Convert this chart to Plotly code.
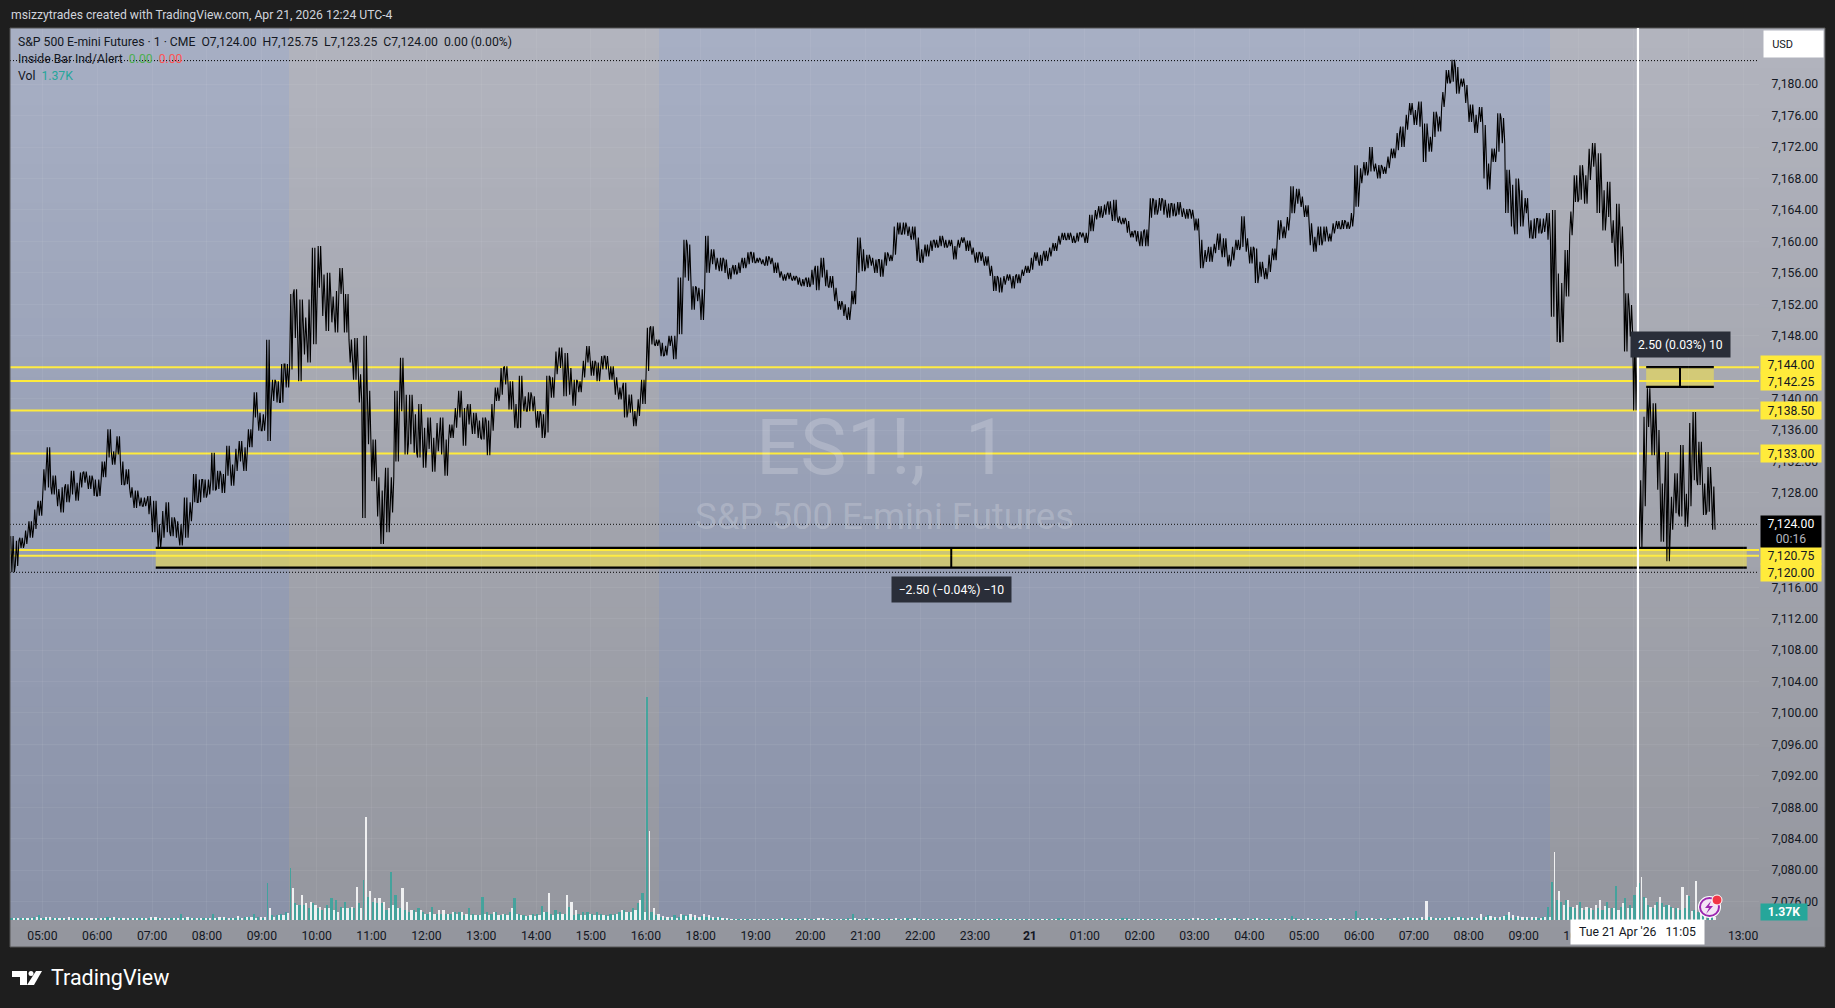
#!/usr/bin/env python3

import pandas as pd
import plotly.graph_objects as go

# 5 minute buckets: high and low of each bucket
price_hi = [
    7122.5,7121.9,7122.3,7123.2,7124.4,7125.9,7127,7131,7133.8,7130.2,
    7128.5,7128.7,7129.1,7130.8,7129.3,7130.6,7130.7,7130.2,7129.7,7129.7,
    7132,7136.1,7133.3,7135.2,7132,7131,7128.7,7128.3,7127.4,7127.4,
    7127.6,7127,7124,7125.7,7126.8,7124.9,7124.4,7124,7127.4,7126.8,
    7130.4,7129.7,7129.7,7129.7,7133.1,7130.8,7130.4,7134,7131.6,7133.6,
    7134.6,7133.8,7136.1,7140.8,7138.2,7138,7147.5,7142.4,7142.2,7144.4,
    7144.4,
    7153.3,7153.9,7152.6,7150.3,7152.6,7159.2,7159.4,7155.8,7156,7153,
    7153.7,7156.6,7153.3,7147.5,7147.7,7143.1,7148,7141,7134.8,7130,
    7128.3,7131.2,7130,7141,7145.2,7140.5,7140.5,7138,7139.3,7136.3,
    7137.6,7135,7136.9,7137.6,7134.8,7136.7,7138.8,7141,7138.8,7139.3,
    7138.2,7137.2,7137.6,7137.2,7139.3,7141.4,7143.9,7144.1,7142.2,7139.3,
    7142.9,7140.3,7140.8,7140.3,7138.4,7138,7142.9,7142.7,7146,7146.5,
    7145.8,7143.9,7142.4,7142.2,7144.8,7146.7,7144.8,7144.6,7145.4,7145.4,
    7144.1,7142.7,7141.4,7142,7140.5,7138.4,7139.9,7142.4,7149,7149.2,
    7147.5,7147.1,7146.7,7148,7148,7155.4,7160.2,7159.6,7154.3,7154.1,
    7153.9,7160.7,7159,7157.9,7157.9,7157.7,7156.6,7157,7157.3,7157.9,
    7158.6,7158.6,7157.9,7157.7,7158.1,7157.9,7157.3,7156.2,7155.8,7156,
    7155.6,7155.4,7155.2,7155.4,7156.4,7156.9,7157.9,7156.4,7155.6,7154.1,
    7152.4,7152,7151.6,7153.7,7160.5,7159,7158.3,7157.9,7157.7,7157.7,
    7158.6,7158.3,7161.9,7162.4,7162.4,7161.9,7161.9,7160.5,7159,7159.6,
    7160.1,7160.2,7160.7,7160.2,7160.2,7159.4,7160.2,7160.5,7160.1,7159.2,
    7158.6,7158.6,7158.1,7156.9,7155.6,7155.4,7155.6,7155.8,7155.6,7155.8,
    7156.4,7156.9,7157.9,7158.6,7158.3,7158.8,7159.2,7159.8,7160.7,7161.1,
    7161.1,7160.7,7161.1,7161.1,7161.1,7163.4,7164,7164.5,7164.7,7165.1,
    7165.3,7163.2,7163,7162.6,7161.3,7161.3,7161.3,7161.5,7165.5,7165.3,
    7165.5,7165.3,7164.8,7164.8,7165,
    7164.2,7164.1,7164,7162.9,7160.2,7158.9,7159.3,7159.7,7161,7160.4,
    7158.3,7159.3,7160.2,7163.2,7160.4,7159.3,7159.1,7157.4,7156.6,7158.3,
    7159.1,7162.7,7161.9,7163.1,7167,7166.7,7165.7,7164.6,7162.3,7160.6,
    7161.9,7161.9,7161,7162.3,7162.6,7162.7,7162.5,7163.6,7169.7,7169.3,
    7170.1,7172,7169.9,7169.7,7169.5,7170.8,7171.8,7173.8,7174.6,7176.1,
    7177.6,7176.7,7177.8,7175,7173.3,7176.5,7175.9,7179,7181.8,7183.1,
    7182.2,7180.7,7179.9,7177.4,7176.1,7177.1,7174.8,7169.9,7171.8,7176.3,
    7175.7,7169.1,7167.2,7168,7166.5,7165.5,7162.7,7162.9,7162.9,7162.9,
    7163.6,7164,7155.9,7154.7,7158.9,7163.8,7168.4,7169.7,7168.4,7171.8,
    7172.5,7171.2,7166.5,7167.6,7162.7,7164.8,7161.9,7153.4,7151.9,7148,
    7129.6,7137.7,7141.3,7139.4,7136,7129.2,7133.2,7127.5,7130.5,7134.1,
    7127.9,7136.9,7138.3,7134.5,7129.2,7131.3,7128.8,
]
price_lo = [
    7117.9,7118.7,7121,7121.5,7122.3,7123.4,7125.1,7128.3,7128.7,7127.8,
    7126.3,7125.5,7126.8,7127.8,7127,7128.7,7129.3,7128.5,7127.6,7127.6,
    7130,7132.5,7131.6,7132.9,7129,7129.1,7127.4,7126.1,7126.3,7126.3,
    7125.3,7123,7121,7122.3,7123,7122.5,7122.3,7121.3,7122.3,7124.4,
    7126.8,7126.8,7127.4,7127.8,7128.3,7128.5,7128,7130.2,7128.9,7130.8,
    7132,7130.8,7133.8,7137.6,7135.9,7135.9,7134.6,7139.7,7139.5,7139.5,
    7141.4,
    7143.7,7147.7,7142.2,7145.6,7144.6,7146.9,7154.1,7150.5,7148.6,7149.7,
    7148.4,7153.3,7148.4,7144.6,7142.4,7139.5,7124.8,7134.2,7129.5,7125,
    7121.5,7123,7125.5,7132,7138.4,7132.9,7134.2,7133.1,7132.5,7131.2,
    7133.6,7130.7,7133.3,7132.9,7130.2,7135,7136.3,7137.6,7134,7136.7,
    7135.5,7135,7134.8,7132.8,7135.9,7139.7,7140.5,7141.8,7138.6,7136.3,
    7136.3,7138.4,7138.4,7138.4,7136.3,7135,7135.7,7140.1,7143.1,7143.9,
    7140.3,7140.5,7139.1,7140.8,7142.7,7144.6,7142.9,7142.2,7143.7,7143.7,
    7142.4,7140.5,7139.9,7137.6,7138.2,7136.5,7137.8,7139.3,7143.5,7146.9,
    7146.7,7145.4,7145.5,7146.7,7145,7148.2,7155.4,7155,7151.3,7152.4,
    7150,7156,7157.1,7156.4,7156.2,7156,7155.2,7155.8,7156,7156.6,
    7157.1,7157.3,7157.3,7157.1,7156.9,7157.1,7156,7155.4,7155,7155.2,
    7155,7154.5,7154.3,7154.2,7154.5,7153.8,7155.4,7154.3,7154.1,7152.4,
    7151.3,7150.5,7150,7152,7156,7156.2,7156.6,7156.9,7156,7155.5,
    7156.9,7157.5,7158.3,7160.9,7160.9,7160.7,7160.2,7157.5,7157.3,7158.1,
    7158.8,7159.2,7159.4,7159.2,7159.4,7157.7,7159.2,7159.8,7158.8,7158.3,
    7157.3,7157.5,7156.9,7155.6,7153.7,7153.5,7154.5,7155,7154,7154.7,
    7155.6,7156,7156.4,7157.5,7156.9,7157.5,7158.1,7158.8,7159.6,7160.2,
    7160.2,7159.8,7160,7160.5,7159.8,7161.3,7162.8,7163,7163.4,7163.4,
    7162.6,7162.4,7162.2,7161.1,7160.5,7160,7159.4,7159.4,7163,7163.4,
    7163.9,7163.4,7163,7163.2,7163.4,
    7163.1,7162.9,7162.9,7161.4,7156.6,7157.4,7157.4,7158.5,7158.9,7158,
    7156.8,7157.6,7158.9,7159.3,7158.7,7157.2,7154.7,7155.5,7155.2,7156.1,
    7157.6,7160.2,7160.4,7161.4,7163.6,7164.8,7164.4,7163.1,7159.5,7158.7,
    7159.5,7160,7160,7161,7161.6,7161.6,7161.6,7161.9,7164.4,7167.4,
    7168.4,7168.9,7168.9,7168,7168.6,7169.3,7170.6,7171.6,7172,7174.2,
    7176.1,7174.8,7174.6,7170.1,7171.4,7173.3,7174,7177.1,7180.1,7180.3,
    7178.8,7179.7,7177.6,7175.2,7173.8,7175.2,7168,7166.6,7170.1,7171.4,
    7172.5,7163.6,7161.9,7160.9,7161.9,7163.6,7160.4,7160.4,7161,7161.2,
    7160.2,7150.4,7147.2,7147.2,7153,7160.8,7165,7165.3,7164.8,7167.8,
    7169.5,7163.6,7161.4,7163.1,7159.8,7156.8,7157.2,7146,7147.9,7138.5,
    7121,7126.3,7136.4,7132.8,7128.4,7121.8,7119.3,7123.3,7125.4,7125,
    7123.7,7126.3,7129.6,7129,7125.2,7125.6,7123.3,
]

# volume in thousands, teal and white bars of each bucket
vol_teal = [
    .3,.4,.3,.3,.4,.5,.9,.3,.3,.4,.3,.3,.2,.3,.3,.4,.3,.3,.2,.3,
    .4,.6,.3,.3,.3,.2,.3,.3,.3,.3,.3,.3,.3,.3,.2,.3,.3,1.0,.4,.3,
    .3,.3,.4,.4,1.0,.4,.3,.3,.4,.3,.4,.5,.5,1.0,.5,.4,6.3,.9,.8,1.1,1.4,
    8.9,2.9,2.6,2.6,2,2.9,2,1.7,2.6,3.7,3.4,2.3,3.1,2,2,2.9,6.9,4,3.1,2.9,
    2.9,1.7,8.3,4.3,2,1.7,1.4,1.7,2,1.4,1.1,2.3,1.1,1,1.1,1,1.4,1.4,.9,2,
    1,.9,4,1.3,1,1.3,.9,1,1.4,3.7,1.1,.9,.7,1,1,2.4,1.4,1,1.7,1.4,
    1,2.3,.9,1,1.4,1.4,1,1.4,1,.9,1,1,1.4,1.7,1.3,2,2.9,4.6,38.2,1.4,
    .9,.6,.4,.3,.9,.5,.9,.8,.6,.4,.7,.5,.4,.3,.6,.2,
    .2,.1,.2,.1,.1,.2,.2,.1,.1,.1,.2,.2,.3,.2,.1,.3,.1,.1,.2,.1,
    .2,.2,.2,.1,.2,.1,.3,1.1,.2,.2,.3,.2,.1,.2,.1,.4,.2,.2,.1,.3,
    .2,.3,.1,.1,.2,.1,.1,.1,.2,.1,.1,.2,.1,.1,.1,.2,.2,.1,.2,.3,
    .2,.1,.1,.2,.1,.1,.1,.2,.1,.1,.2,.1,.3,.3,.2,.1,.1,.1,.2,.1,
    .1,.1,.2,.1,.1,.1,.3,.4,.2,.1,.1,.2,.1,.1,.2,.1,.1,.1,.1,.1,
    .2,.1,.2,.1,.2,.1,.1,.3,.1,.2,.1,.3,.2,.1,.2,.3,.2,.1,.3,.2,
    .2,.1,.2,.7,.3,.2,.1,.2,.1,.2,.1,.2,.1,.1,.1,.2,.2,1.5,
    .3,.2,.3,.2,.1,.1,.3,.2,.3,.2,.3,.3,.4,.3,.2,.5,.3,.3,.4,.4,
    .6,.4,.5,.3,.4,.4,.3,.6,.8,.4,.4,.6,.8,.4,.5,.4,.3,.4,.4,.3,.5,2.2,
    6.5,3.4,3.1,3.4,2.3,2,3.1,1.7,2,1.7,2,1.7,3.1,2,5.8,2.3,3.7,2.6,4.3,6.3,
    4,2.6,2,3.1,2.9,2.6,2.3,2,1.7,2,4.1,1.7,1.4,1.3,.9,1.37,
]
vol_white = [
    .3,.3,.4,.4,.3,.5,.3,.5,.5,.3,.3,.4,.6,.3,.3,.3,.3,.3,.4,.3,
    .3,.3,.5,.3,.4,.3,.3,.4,.4,.4,.5,.6,.4,.3,.4,.4,.3,.4,.5,.4,
    .4,.3,.3,.4,.4,.5,.5,.3,.4,.7,.4,.5,.6,.4,.6,.5,2.0,.6,.9,.9,1.2,
    5.4,2.6,4.3,2.9,3.1,2.6,2.3,2,2,1.7,1.4,2,2,2.3,5.7,2,17.6,4.9,3.7,3.7,
    3.1,2,2.6,2,5.4,3.1,1.7,1.4,1.7,1.1,1.3,1.1,1.7,1.7,1,1.3,1,1.3,1,.9,
    .9,.9,1,.9,1.3,.9,1,.9,2,1,.9,.7,.9,.7,.9,1.4,4.7,.9,1,1,
    4.3,3.1,1.7,.9,.9,1,.9,.9,.9,.7,.9,1,1.7,1.3,1.4,1.7,3.4,1.4,15.2,2,
    1,.7,.6,.6,.4,1.1,.7,1,.9,.6,1,.9,.5,.5,.3,.3,
    .2,.2,.1,.2,.2,.1,.2,.2,.2,.1,.1,.4,.2,.2,.2,.1,.3,.2,.1,.3,
    .3,.1,.2,.2,.1,.2,.2,.4,.2,.1,.2,.3,.2,.1,.2,.2,.3,.1,.4,.2,
    .3,.2,.1,.2,.1,.2,.2,.1,.1,.2,.3,.1,.2,.2,.1,.1,.2,.2,.1,.1,
    .1,.2,.2,.1,.2,.2,.1,.2,.2,.1,.1,.2,.1,.1,.1,.2,.2,.2,.1,.2,
    .2,.2,.1,.2,.2,.2,.1,.1,.2,.2,.2,.1,.2,.2,.1,.2,.2,.1,.2,.2,
    .1,.3,.4,.2,.1,.2,.3,.1,.3,.2,.3,.1,.2,.4,.2,.3,.1,.2,.1,.2,
    .1,.3,.2,.1,.2,.1,.3,.2,.2,.1,.2,.3,.2,.2,.3,.2,.1,
    .3,.2,.3,.4,.2,.3,.2,.2,.3,.2,.4,.5,.3,.3,.6,3.3,.5,.4,.4,.3,.5,
    .3,.5,.3,.4,.5,.4,1.0,.6,.7,.5,.6,.7,1.4,.8,.7,.6,.5,.6,.5,.4,.5,.6,
    11.7,5,2.6,3.5,2.3,2.6,2,2.3,2,2.6,3.4,2.4,2,2,1.7,2.9,2,2,5.7,7.4,
    3.7,2.3,2.6,3.9,2.3,2.6,2,2,5.7,4.3,1.6,6.6,2,1.4,1,.5,
]

# drawn levels and the right hand labels
level_values = [7144, 7142.25, 7138.5, 7133, 7120.75, 7120]
level_labels = ["7,144.00", "7,142.25", "7,138.50", "7,133.00", "7,120.75", "7,120.00"]
label_centres = [364.5, 381, 411, 453, 556, 572.5]

price_ticks = list(range(7076, 7184, 4))
# these sit behind a price label in the reference
hidden_prices = [7144, 7124, 7120]
time_ticks = [
    "2026-04-20 05:00", "2026-04-20 06:00", "2026-04-20 07:00", "2026-04-20 08:00",
    "2026-04-20 09:00", "2026-04-20 10:00", "2026-04-20 11:00", "2026-04-20 12:00",
    "2026-04-20 13:00", "2026-04-20 14:00", "2026-04-20 15:00", "2026-04-20 16:00",
    "2026-04-20 18:00", "2026-04-20 19:00", "2026-04-20 20:00", "2026-04-20 21:00",
    "2026-04-20 22:00", "2026-04-20 23:00", "2026-04-21 00:00", "2026-04-21 01:00",
    "2026-04-21 02:00", "2026-04-21 03:00", "2026-04-21 04:00", "2026-04-21 05:00",
    "2026-04-21 06:00", "2026-04-21 07:00", "2026-04-21 08:00", "2026-04-21 09:00",
    "2026-04-21 10:00", "2026-04-21 11:00", "2026-04-21 12:00", "2026-04-21 13:00",
]
# 11:00 and 12:00 of the last day are covered by the crosshair date
time_labels = [
    "05:00", "06:00", "07:00", "08:00", "09:00", "10:00", "11:00", "12:00",
    "13:00", "14:00", "15:00", "16:00", "18:00", "19:00", "20:00", "21:00",
    "22:00", "23:00", "<b>21</b>", "01:00", "02:00", "03:00", "04:00", "05:00",
    "06:00", "07:00", "08:00", "09:00", "10:00", "", "", "13:00",
]

FONT = "Roboto"
DARK = "#1e1e1e"
INK = "#131722"
YELLOW = "#ffeb3b"
TEAL = "#26a69a"

LEFT, RIGHT, TOP, BOTTOM = 10, 1759, 28, 920


def px(x):
    return (x - LEFT) / (RIGHT - LEFT)


def py(y):
    return (BOTTOM - y) / (BOTTOM - TOP)


# buckets: the market is shut from 17:00 to 18:00
n_first = 151
buckets = list(pd.date_range("2026-04-20 04:25", periods=n_first, freq="5min"))
buckets += list(pd.date_range("2026-04-20 18:00", periods=len(price_hi) - n_first, freq="5min"))

# swing between high and low twice in each bucket so busy stretches look solid
line_x, line_y = [], []
for i, t in enumerate(buckets):
    first, second = (price_hi[i], price_lo[i]) if i % 2 == 0 else (price_lo[i], price_hi[i])
    for k, value in enumerate([first, second, first, second]):
        line_x.append(t + pd.Timedelta(seconds=20 + 80 * k))
        line_y.append(value)


def bar_widths(values):
    # narrow for the tall spikes, else the two bars fill the bucket
    return [100000 if v > 6 else 144000 for v in values]


fig = go.Figure()
fig.add_trace(go.Bar(
    x=[t + pd.Timedelta(minutes=1.25) for t in buckets], y=vol_teal, yaxis="y2",
    width=bar_widths(vol_teal), marker=dict(color="rgba(38,166,154,0.72)", line_width=0),
))
fig.add_trace(go.Bar(
    x=[t + pd.Timedelta(minutes=3.75) for t in buckets], y=vol_white, yaxis="y2",
    width=bar_widths(vol_white), marker=dict(color="rgba(255,255,255,0.85)", line_width=0),
))
fig.add_trace(go.Scatter(
    x=line_x, y=line_y, mode="lines", line=dict(color="#000000", width=1.1),
))

shapes = []


def mix(a, b, f):
    return "rgb(%d,%d,%d)" % tuple(round(a[k] + (b[k] - a[k]) * f) for k in range(3))


# pane background is a top to bottom gradient, so stack thin bands
grey_top, grey_bottom = (178, 180, 190), (148, 150, 158)
blue_top, blue_bottom = (167, 175, 196), (138, 146, 168)
steps = 46
for s in range(steps):
    y0 = TOP + (947 - TOP) * s / steps
    y1 = TOP + (947 - TOP) * (s + 1) / steps + 1
    shapes.append(dict(type="rect", xref="paper", yref="paper", x0=px(LEFT), x1=px(1825),
                       y0=py(y0), y1=py(min(y1, 947)), layer="below", line_width=0,
                       fillcolor=mix(grey_top, grey_bottom, (s + 0.5) / steps)))
for s in range(steps):
    y0 = TOP + (BOTTOM - TOP) * s / steps
    y1 = TOP + (BOTTOM - TOP) * (s + 1) / steps + 1
    fill = mix(blue_top, blue_bottom, (s + 0.5) / steps)
    for x0, x1 in [(px(LEFT), px(289)), (px(659), px(1550))]:
        shapes.append(dict(type="rect", xref="paper", yref="paper", x0=x0, x1=x1,
                           y0=py(y0), y1=py(min(y1, BOTTOM)), layer="below", line_width=0,
                           fillcolor=fill))

# pane outline
shapes.append(dict(type="rect", xref="paper", yref="paper", x0=px(LEFT), x1=px(1825),
                   y0=py(947), y1=py(TOP), line=dict(color="#555555", width=1)))

# dotted high, low and last price
for value in [7183, 7117.9, 7124]:
    shapes.append(dict(type="line", xref="paper", yref="y", x0=0, x1=1, y0=value, y1=value,
                       layer="below", line=dict(color="#000000", width=1, dash="1px,2px")))

# the two yellow measuring boxes
measure_boxes = [
    ("2026-04-20 07:04", "2026-04-21 13:04", "2026-04-20 22:34", 7121, 7118.5),
    ("2026-04-21 11:14", "2026-04-21 12:28", "2026-04-21 11:51", 7144, 7141.5),
]
for x0, x1, mid, top, bottom in measure_boxes:
    shapes.append(dict(type="rect", xref="x", yref="y", x0=x0, x1=x1, y0=bottom, y1=top,
                       layer="below", line_width=0, fillcolor="rgba(255,235,59,0.5)"))
    for value in (top, bottom):
        shapes.append(dict(type="line", xref="x", yref="y", x0=x0, x1=x1, y0=value, y1=value,
                           layer="below", line=dict(color="#000000", width=2.2)))
    shapes.append(dict(type="line", xref="x", yref="y", x0=mid, x1=mid, y0=bottom, y1=top,
                       layer="below", line=dict(color="#000000", width=2)))

for value in level_values:
    shapes.append(dict(type="line", xref="paper", yref="y", x0=0, x1=1, y0=value, y1=value,
                       layer="below", line=dict(color=YELLOW, width=2)))

# crosshair
shapes.append(dict(type="line", xref="x", yref="paper", x0="2026-04-21 11:05", x1="2026-04-21 11:05",
                   y0=0, y1=1, line=dict(color="#ffffff", width=2.2)))

# replay badge at the end of the bars
shapes.append(dict(type="circle", xref="paper", yref="paper", x0=px(1698), x1=px(1721),
                   y0=py(918), y1=py(896), fillcolor="#ffffff", line_width=0))
shapes.append(dict(type="circle", xref="paper", yref="paper", x0=px(1700), x1=px(1719),
                   y0=py(916), y1=py(898), fillcolor="#f3e5f5",
                   line=dict(color="#9c27b0", width=2)))
bolt = [(1711, 901), (1705, 908), (1709, 908), (1706, 914), (1713, 906), (1709, 906)]
shapes.append(dict(type="path", xref="paper", yref="paper", line_width=0, fillcolor="#9c27b0",
                   path="M " + " L ".join(f"{px(a)} {py(b)}" for a, b in bolt) + " Z"))
shapes.append(dict(type="circle", xref="paper", yref="paper", x0=px(1712), x1=px(1722),
                   y0=py(905), y1=py(895), fillcolor="#f23645",
                   line=dict(color="#ffffff", width=1)))

# TradingView mark in the footer
logo_parts = [
    [(12, 971), (27, 971), (27, 985), (20, 985), (20, 977), (12, 977)],
    [(36, 971), (42, 971), (34, 985), (27, 985)],
]
for part in logo_parts:
    shapes.append(dict(type="path", xref="paper", yref="paper", line_width=0, fillcolor="#ffffff",
                       path="M " + " L ".join(f"{px(a)} {py(b)}" for a, b in part) + " Z"))
shapes.append(dict(type="circle", xref="paper", yref="paper", x0=px(28.5), x1=px(33.5),
                   y0=py(976), y1=py(971), fillcolor="#ffffff", line_width=0))

annotations = []


def note(text, x, y, size=12.2, color=INK, xanchor="left", **extra):
    annotations.append(dict(text=text, x=px(x), y=py(y), xref="paper", yref="paper",
                            xanchor=xanchor, yanchor="middle", showarrow=False,
                            font=dict(family=FONT, size=size, color=color), **extra))


SP = "\u00a0\u00a0"
note("msizzytrades created with TradingView.com, Apr 21, 2026 12:24 UTC-4", 9, 15, color="#d1d4dc")
note(f"S&P 500 E-mini Futures · 1 · CME{SP}O7,124.00{SP}H7,125.75{SP}L7,123.25{SP}C7,124.00{SP}0.00 (0.00%)", 16, 42)
note(f"Inside Bar Ind/Alert{SP}<span style='color:#4caf50'>0.00</span>{SP}<span style='color:#ff5252'>0.00</span>", 16, 59)
note(f"Vol{SP}<span style='color:#26a69a'>1.37K</span>", 16, 76)

# watermark
note("ES1!,\u00a0\u00a01", 882, 447, size=78, color="rgba(255,255,255,0.2)", xanchor="center")
note("S&P 500 E-mini Futures", 884, 516, size=36.5, color="rgba(255,255,255,0.2)", xanchor="center")

# right hand price labels
for text, centre in zip(level_labels, label_centres):
    note(text, 1760, centre, bgcolor=YELLOW, width=60, height=17, borderpad=0, align="center")
note("7,124.00<br><span style='color:#b2b5be'>00:16</span>", 1760, 531.5, color="#ffffff",
     bgcolor="#000000", width=60, height=31, borderpad=0, align="center")
note("<b>1.37K</b>", 1760, 912, color="#ffffff", bgcolor=TEAL, width=46, height=16, borderpad=0, align="center")
note("\u00a0\u00a0\u00a0USD", 1763, 44, bgcolor="#ffffff", width=59, height=26, borderpad=0, align="left", size=11)

# measure tooltips
note("2.50 (0.03%) 10", 1680, 344, color="#ffffff", xanchor="center", bgcolor="#2a2e39",
     width=99, height=25, borderpad=0, align="center")
note("\u22122.50 (\u22120.04%) \u221210", 951, 590, color="#ffffff", xanchor="center", bgcolor="#2a2e39",
     width=119, height=25, borderpad=0, align="center")

# crosshair date
note("Tue 21 Apr '26\u00a0\u00a0\u00a011:05", 1637.5, 932, xanchor="center", bgcolor="#ffffff",
     width=133, height=24, borderpad=0, align="center")

note("TradingView", 49, 977, size=21.5, color="#ffffff")

fig.update_layout(
    width=1835, height=1008, autosize=False,
    margin=dict(l=LEFT, r=1835 - RIGHT, t=TOP, b=1008 - BOTTOM, pad=0),
    paper_bgcolor=DARK, plot_bgcolor="rgba(0,0,0,0)",
    showlegend=False, barmode="overlay", bargap=0,
    font=dict(family=FONT, size=12, color=INK),
    shapes=shapes, annotations=annotations,
    xaxis=dict(
        type="date", range=["2026-04-20 04:24:36", "2026-04-21 13:17:24"],
        rangebreaks=[dict(bounds=[17, 18], pattern="hour")],
        tickmode="array", tickvals=time_ticks, ticktext=time_labels,
        ticks="outside", ticklen=4, tickcolor="rgba(0,0,0,0)",
        showgrid=True, gridcolor="rgba(255,255,255,0.06)", zeroline=False, showline=False,
        tickfont=dict(family=FONT, size=12.2, color=INK), fixedrange=True,
    ),
    yaxis=dict(
        range=[7073.66, 7187.15], side="right",
        tickmode="array", tickvals=price_ticks,
        ticktext=["" if v in hidden_prices else f"{v:,}.00" for v in price_ticks],
        ticks="outside", ticklen=9, tickcolor="rgba(0,0,0,0)",
        showgrid=True, gridcolor="rgba(255,255,255,0.06)", zeroline=False, showline=False,
        tickfont=dict(family=FONT, size=12.2, color=INK), fixedrange=True,
    ),
    yaxis2=dict(overlaying="y", range=[0, 152.7], visible=False, fixedrange=True),
)

fig.write_html(
    "out.html",
    config={"displayModeBar": False},
    post_script="document.body.style.margin='0';document.body.style.overflow='hidden';"
                "document.body.style.background='#1e1e1e';",
)
